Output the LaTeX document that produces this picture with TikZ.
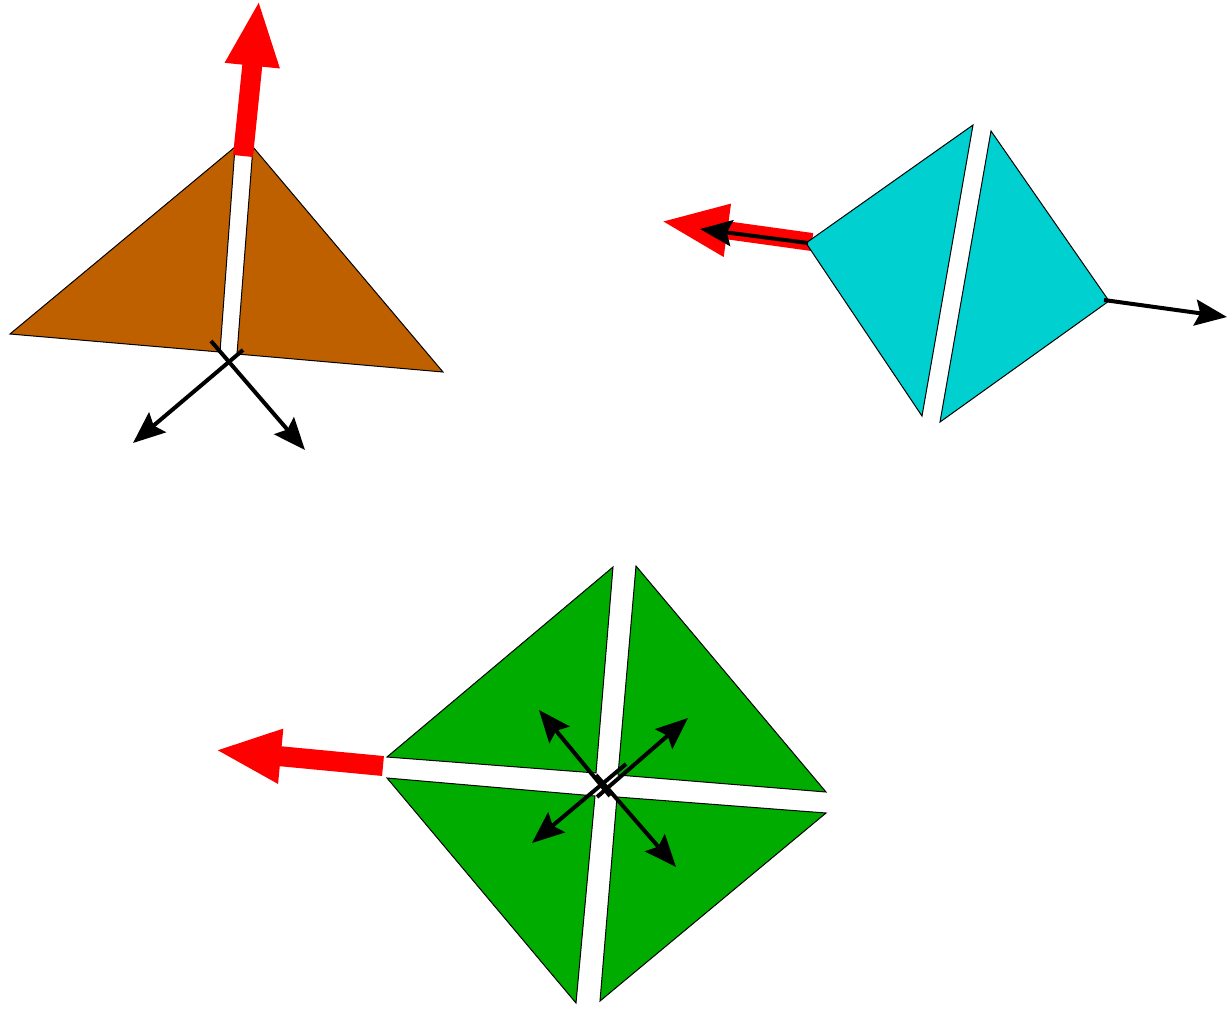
\documentclass[tikz,border=0pt]{standalone}
\usetikzlibrary{arrows.meta}
\definecolor{brownface}{RGB}{191,96,0}
\definecolor{cyanface}{RGB}{0,208,208}
\definecolor{greenface}{RGB}{0,172,0}
\tikzset{
  face/.style={draw=black,line width=0.5pt,line join=miter},
  force/.style={red,line width=10pt,-{Triangle[length=33pt,width=25pt]}},
  vel/.style={black,line width=2pt,-{Stealth[length=16pt,width=13pt,inset=2.5pt]}},
}
\begin{document}
\begin{tikzpicture}[x=0.5pt,y=-0.5pt]
\useasboundingbox (0,0) rectangle (1227,1013);

% brown pair
\coordinate (bl1) at (10,334);  \coordinate (bl2) at (235,147); \coordinate (bl3) at (220,352);
\coordinate (br1) at (253,147); \coordinate (br2) at (443,372); \coordinate (br3) at (237,354);
\fill[brownface,face] (bl1) -- (bl2) -- (bl3) -- cycle;
\fill[brownface,face] (br1) -- (br2) -- (br3) -- cycle;
\coordinate (bf0) at (243,156); \coordinate (bf1) at (259,0);
\draw[force] (bf0) -- (bf1);
\coordinate (ba0) at (211,341); \coordinate (ba1) at (305,450);
\coordinate (bb0) at (243,350); \coordinate (bb1) at (133,443);
\draw[vel] (ba0) -- (ba1);
\draw[vel] (bb0) -- (bb1);

% cyan pair
\coordinate (cf0) at (812,242); \coordinate (cf1) at (660,221);
\draw[force,line width=9pt,-{Triangle[length=34pt,width=24pt]}] (cf0) -- (cf1);
\coordinate (cl1) at (973,125); \coordinate (cl2) at (806,243); \coordinate (cl3) at (922,416);
\coordinate (cr1) at (991,131); \coordinate (cr2) at (1109,301); \coordinate (cr3) at (940,422);
\fill[cyanface,face] (cl1) -- (cl2) -- (cl3) -- cycle;
\fill[cyanface,face] (cr1) -- (cr2) -- (cr3) -- cycle;
\coordinate (ca0) at (808,243); \coordinate (ca1) at (700,229);
\coordinate (cb0) at (1104,300); \coordinate (cb1) at (1227,317);
\draw[vel] (ca0) -- (ca1);
\draw[vel] (cb0) -- (cb1);

% green quad
\coordinate (g11) at (613,567); \coordinate (g12) at (387,757); \coordinate (g13) at (596,773);
\coordinate (g21) at (636,566); \coordinate (g22) at (826,792); \coordinate (g23) at (618,775);
\coordinate (g31) at (387,778); \coordinate (g32) at (595,796); \coordinate (g33) at (576,1003);
\coordinate (g41) at (617,797); \coordinate (g42) at (826,813); \coordinate (g43) at (600,1001);
\foreach \t in {1,2,3,4}
  \fill[greenface,face] (g\t1) -- (g\t2) -- (g\t3) -- cycle;
\coordinate (gf0) at (383,766); \coordinate (gf1) at (215,750);
\draw[force] (gf0) -- (gf1);
\coordinate (ga0) at (597,797); \coordinate (ga1) at (688,718);
\coordinate (gb0) at (626,764); \coordinate (gb1) at (532,843);
\coordinate (gc0) at (610,796); \coordinate (gc1) at (539,710);
\coordinate (gd0) at (596,775); \coordinate (gd1) at (676,867);
\draw[vel] (ga0) -- (ga1);
\draw[vel] (gb0) -- (gb1);
\draw[vel] (gc0) -- (gc1);
\draw[vel] (gd0) -- (gd1);
\end{tikzpicture}
\end{document}
